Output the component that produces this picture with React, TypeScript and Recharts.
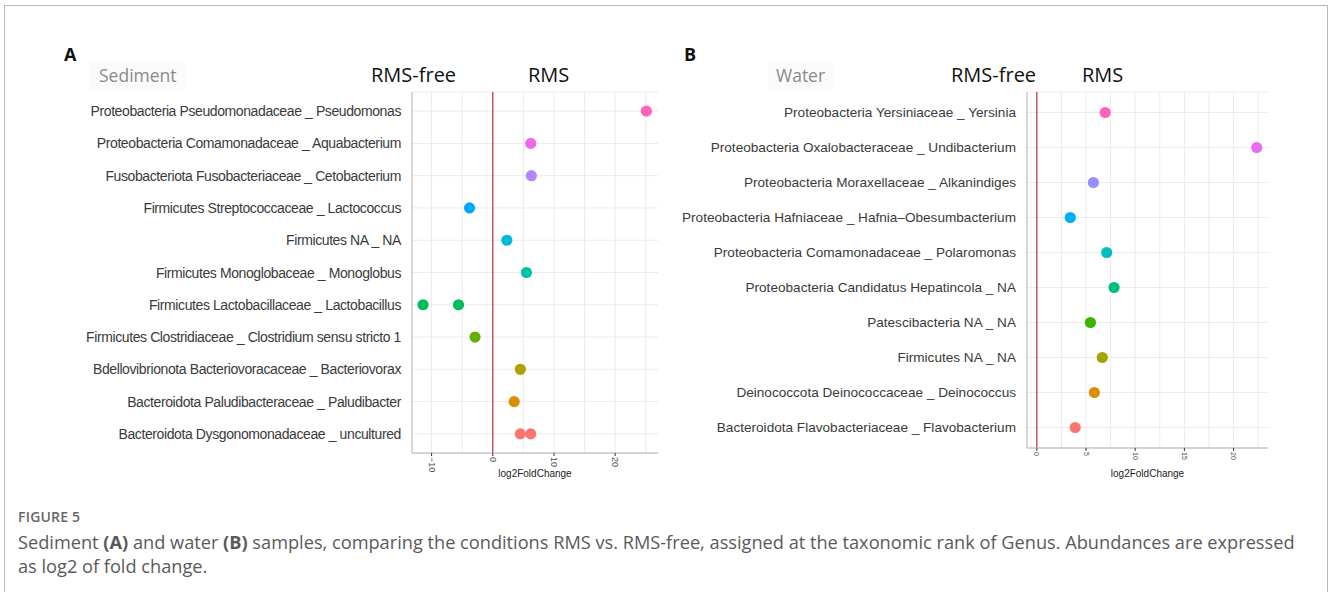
import React from 'react';
import {
  CartesianGrid,
  Cell,
  ReferenceLine,
  Scatter,
  ScatterChart,
  XAxis,
  YAxis,
} from 'recharts';

// Panel A - sediment
const sedimentTaxa = [
  'Proteobacteria Pseudomonadaceae _ Pseudomonas',
  'Proteobacteria Comamonadaceae _ Aquabacterium',
  'Fusobacteriota Fusobacteriaceae _ Cetobacterium',
  'Firmicutes Streptococcaceae _ Lactococcus',
  'Firmicutes NA _ NA',
  'Firmicutes Monoglobaceae _ Monoglobus',
  'Firmicutes Lactobacillaceae _ Lactobacillus',
  'Firmicutes Clostridiaceae _ Clostridium sensu stricto 1',
  'Bdellovibrionota Bacteriovoracaceae _ Bacteriovorax',
  'Bacteroidota Paludibacteraceae _ Paludibacter',
  'Bacteroidota Dysgonomonadaceae _ uncultured',
];
const sedimentLfc = [
  [25.1],
  [6.2],
  [6.3],
  [-3.8],
  [2.3],
  [5.5],
  [-11.4, -5.6],
  [-2.9],
  [4.5],
  [3.5],
  [4.5, 6.2],
];
const sedimentTicks = [-10, 0, 10, 20];
const sedimentGrid = [-10, -5, 5, 10, 15, 20, 25];

// Panel B - water
const waterTaxa = [
  'Proteobacteria Yersiniaceae _ Yersinia',
  'Proteobacteria Oxalobacteraceae _ Undibacterium',
  'Proteobacteria Moraxellaceae _ Alkanindiges',
  'Proteobacteria Hafniaceae _ Hafnia–Obesumbacterium',
  'Proteobacteria Comamonadaceae _ Polaromonas',
  'Proteobacteria Candidatus Hepatincola _ NA',
  'Patescibacteria NA _ NA',
  'Firmicutes NA _ NA',
  'Deinococcota Deinococcaceae _ Deinococcus',
  'Bacteroidota Flavobacteriaceae _ Flavobacterium',
];
const waterLfc = [
  [6.95],
  [22.35],
  [5.75],
  [3.4],
  [7.1],
  [7.85],
  [5.45],
  [6.65],
  [5.85],
  [3.9],
];
const waterTicks = [0, 5, 10, 15, 20];
const waterGrid = [2.5, 5, 7.5, 10, 12.5, 15, 17.5, 20, 22.5];

// ggplot hue palettes, top row first
const sedimentColors = [
  '#FF63B6', '#EF67EB', '#B385FF', '#00A6FF', '#00BADE', '#00C1A7',
  '#00BD5C', '#64B200', '#AEA200', '#DB8E00', '#F8766D',
];
const waterColors = [
  '#FF62BC', '#E76BF3', '#9590FF', '#00B0F6', '#00BFC4', '#00BF7D',
  '#39B600', '#A3A500', '#D89000', '#F8766D',
];

const toRows = (taxa: string[], lfc: number[][], colors: string[]) =>
  taxa.flatMap((taxon, i) => lfc[i].map((v) => ({ taxon, lfc: v, color: colors[i] })));

const sedimentData = toRows(sedimentTaxa, sedimentLfc, sedimentColors);
const waterData = toRows(waterTaxa, waterLfc, waterColors);

const fmt = (v: number) => (v < 0 ? `−${-v}` : `${v}`);
const axisFont = 'Liberation Sans, Arial, sans-serif';

const RotTick = ({ x, y, payload, fontSize }: any) => (
  <text
    x={x}
    y={y}
    transform={`rotate(90 ${x} ${y})`}
    textAnchor="start"
    dominantBaseline="central"
    fontSize={fontSize}
    fill="#4d4d4d"
    fontFamily={axisFont}
  >
    {fmt(payload.value)}
  </text>
);

// single-line category label (no wrapping)
const TaxonTick = ({ x, y, payload, fontSize, spacing }: any) => (
  <text
    x={x}
    y={y}
    textAnchor="end"
    dominantBaseline="central"
    fontSize={fontSize}
    fill="#3a3a3a"
    fontFamily={axisFont}
    letterSpacing={spacing}
  >
    {payload.value}
  </text>
);

const Dot = (props: any) => <circle cx={props.cx} cy={props.cy} r={5.6} fill={props.fill} />;

interface PanelProps {
  data: { taxon: string; lfc: number; color: string }[];
  taxa: string[];
  domain: [number, number];
  ticks: number[];
  grid: number[];
  width: number;
  yWidth: number;
  xHeight: number;
  tickFont: number;
  labelFont: number;
  labelSpacing: number;
  titleOffset: number;
}

function Panel({ data, taxa, domain, ticks, grid, width, yWidth, xHeight, tickFont, labelFont, labelSpacing, titleOffset }: PanelProps) {
  return (
    <ScatterChart width={width} height={490} margin={{ top: 92, right: 12, bottom: 0, left: 0 }}>
      <CartesianGrid vertical={false} stroke="#ebebeb" strokeWidth={1} />
      {grid.map((g) => (
        <ReferenceLine key={g} x={g} stroke="#ebebeb" strokeWidth={1} ifOverflow="hidden" />
      ))}
      <XAxis
        type="number"
        dataKey="lfc"
        domain={domain}
        ticks={ticks}
        allowDataOverflow
        height={xHeight}
        tickSize={3}
        tickMargin={1}
        tickLine={{ stroke: '#333' }}
        axisLine={{ stroke: '#b3b3b3' }}
        tick={<RotTick fontSize={tickFont} />}
        label={{
          value: 'log2FoldChange',
          position: 'insideBottom',
          offset: titleOffset,
          fontSize: 10,
          fill: '#222',
          fontFamily: axisFont,
        }}
      />
      <YAxis
        type="category"
        dataKey="taxon"
        ticks={taxa}
        allowDuplicatedCategory={false}
        reversed
        interval={0}
        width={yWidth}
        padding={{ top: 3, bottom: 3 }}
        tickLine={false}
        tickSize={6}
        tickMargin={5}
        axisLine={{ stroke: '#b3b3b3' }}
        tick={<TaxonTick fontSize={labelFont} spacing={labelSpacing} />}
      />
      <XAxis xAxisId="top" orientation="top" type="number" domain={[0, 1]} height={0} tick={false} tickLine={false} axisLine={{ stroke: '#b3b3b3' }} />
      <YAxis yAxisId="right" orientation="right" type="number" domain={[0, 1]} width={0} tick={false} tickLine={false} axisLine={{ stroke: '#b3b3b3' }} />
      <ReferenceLine x={0} stroke="#b8322a" strokeWidth={1.2} />
      <Scatter data={data} shape={<Dot />} isAnimationActive={false}>
        {data.map((d, i) => (
          <Cell key={i} fill={d.color} />
        ))}
      </Scatter>
    </ScatterChart>
  );
}

const sans = '"Open Sans", "Noto Sans", sans-serif';

export default function App() {
  return (
    <div style={{ position: 'absolute', left: 0, top: 0, width: 1328, height: 592, overflow: 'hidden', background: '#fff', fontFamily: sans }}>
      <div style={{ position: 'absolute', left: 4, top: 5, width: 1322, height: 640, borderLeft: '1px solid #b8b8b8', borderTop: '1px solid #b8b8b8', borderRight: '1px solid #b8b8b8' }} />

      <div style={{ position: 'absolute', left: 0, top: 0 }}>
        <Panel
          data={sedimentData}
          taxa={sedimentTaxa}
          domain={[-13.2, 27]}
          ticks={sedimentTicks}
          grid={sedimentGrid}
          width={670}
          yWidth={412}
          xHeight={37}
          tickFont={9}
          labelFont={14}
          labelSpacing={-0.4}
          titleOffset={13}
        />
      </div>
      <div style={{ position: 'absolute', left: 680, top: 0 }}>
        <Panel
          data={waterData}
          taxa={waterTaxa}
          domain={[-1, 23.5]}
          ticks={waterTicks}
          grid={waterGrid}
          width={600}
          yWidth={347}
          xHeight={42}
          tickFont={7}
          labelFont={13.6}
          labelSpacing={0}
          titleOffset={13}
        />
      </div>

      <div style={{ position: 'absolute', left: 64, top: 42, fontSize: 18, fontWeight: 700, color: '#111' }}>A</div>
      <div style={{ position: 'absolute', left: 684, top: 42, fontSize: 18, fontWeight: 700, color: '#111' }}>B</div>

      <div style={{ position: 'absolute', left: 89, top: 62, width: 97, height: 28, background: '#fafafa', borderRadius: 3 }} />
      <div style={{ position: 'absolute', left: 99, top: 63, fontSize: 17.5, color: '#8a8a8a' }}>Sediment</div>
      <div style={{ position: 'absolute', left: 768, top: 62, width: 66, height: 28, background: '#fafafa', borderRadius: 3 }} />
      <div style={{ position: 'absolute', left: 776, top: 63, fontSize: 17.5, color: '#8a8a8a' }}>Water</div>

      <div style={{ position: 'absolute', left: 371, top: 61, fontSize: 20, color: '#111' }}>RMS-free</div>
      <div style={{ position: 'absolute', left: 528, top: 61, fontSize: 20, color: '#111' }}>RMS</div>
      <div style={{ position: 'absolute', left: 951, top: 61, fontSize: 20, color: '#111' }}>RMS-free</div>
      <div style={{ position: 'absolute', left: 1082, top: 61, fontSize: 20, color: '#111' }}>RMS</div>

      <div style={{ position: 'absolute', left: 18, top: 507, fontSize: 14, fontWeight: 600, color: '#666', letterSpacing: 0.2 }}>FIGURE 5</div>
      <div style={{ position: 'absolute', left: 18, top: 530, width: 1310, fontSize: 18.2, lineHeight: '24px', color: '#5a5a5a', whiteSpace: 'nowrap' }}>
        Sediment <b>(A)</b> and water <b>(B)</b> samples, comparing the conditions RMS vs. RMS-free, assigned at the taxonomic rank of Genus. Abundances are expressed
        <br />
        as log2 of fold change.
      </div>
    </div>
  );
}
